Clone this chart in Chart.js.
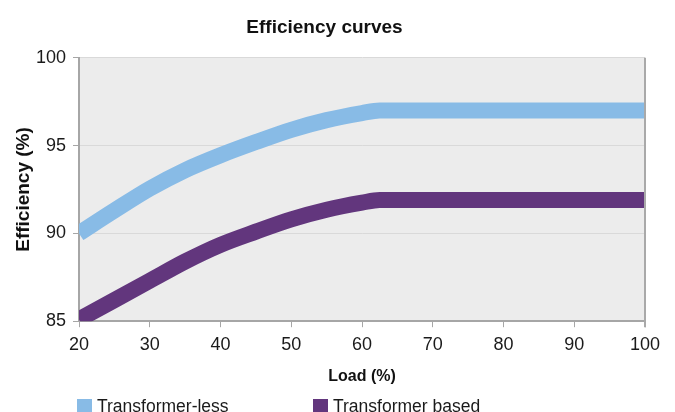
<!DOCTYPE html>
<html>
<head>
<meta charset="utf-8">
<title>Efficiency curves</title>
<script src="https://cdn.jsdelivr.net/npm/chart.js@4.4.1/dist/chart.umd.min.js"></script>
<style>
  body { margin: 0; background: #fff; }
  #wrap { position: relative; width: 675px; height: 412px; overflow: hidden; }
  .legend-item { position: absolute; top: 396px; display: flex; align-items: center;
    font: 17.5px "Liberation Sans", Arial, sans-serif; color: #1a1a1a; white-space: nowrap; }
  .legend-item .box { width: 15px; height: 15px; margin-right: 5px; }
</style>
</head>
<body>
<div id="wrap">
  <canvas id="myChart" width="675" height="412"></canvas>
</div>
<script>
// data
const load = [20, 25, 30, 35, 40, 45, 50, 55, 60, 62.5, 100];
const transformerLess = [90.0, 91.3, 92.55, 93.6, 94.45, 95.2, 95.9, 96.45, 96.85, 97.0, 97.0];
const transformerBased = [85.1, 86.2, 87.3, 88.4, 89.35, 90.1, 90.8, 91.35, 91.75, 91.9, 91.9];
const seriesNames = ['Transformer-less', 'Transformer based'];
const seriesColors = ['#88bbe6', '#62367d'];
const legendLeft = [77, 313];

Chart.defaults.font.family = '"Liberation Sans", Arial, sans-serif';
Chart.defaults.color = '#1a1a1a';

function points(ys) {
  return load.map((x, i) => ({ x: x, y: ys[i] }));
}

// grey plot background + right frame line
const plotFrame = {
  id: 'plotFrame',
  beforeDraw(chart) {
    const a = chart.chartArea, ctx = chart.ctx;
    ctx.save();
    ctx.fillStyle = '#ececec';
    ctx.fillRect(a.left, a.top, a.right - a.left, a.bottom - a.top);
    ctx.restore();
  },
  afterDatasetsDraw(chart) {
    const a = chart.chartArea, ctx = chart.ctx;
    ctx.save();
    ctx.strokeStyle = '#a9a9a9';
    ctx.lineWidth = 2;
    ctx.beginPath();
    ctx.moveTo(a.right, a.top);
    ctx.lineTo(a.right, a.bottom + 6);
    ctx.stroke();
    ctx.restore();
  }
};

var ctx = document.getElementById('myChart').getContext('2d');
const myChart = new Chart(ctx, {
  type: 'line',
  data: {
    datasets: [
      { label: seriesNames[0], data: points(transformerLess), borderColor: seriesColors[0],
        backgroundColor: seriesColors[0], borderWidth: 16, pointRadius: 0,
        cubicInterpolationMode: 'monotone', clip: 0 },
      { label: seriesNames[1], data: points(transformerBased), borderColor: seriesColors[1],
        backgroundColor: seriesColors[1], borderWidth: 16, pointRadius: 0,
        cubicInterpolationMode: 'monotone', clip: 0 }
    ]
  },
  options: {
    responsive: false,
    animation: false,
    layout: { padding: { left: 4, right: 30, top: 0, bottom: 24 } },
    plugins: {
      legend: { display: false },
      tooltip: { enabled: false },
      title: {
        display: true,
        text: 'Efficiency curves',
        color: '#111',
        font: { size: 19, weight: 'bold' },
        padding: { top: 16, bottom: 19 }
      }
    },
    scales: {
      x: {
        type: 'linear',
        min: 20,
        max: 100,
        ticks: { stepSize: 10, font: { size: 18 }, padding: 7, maxRotation: 0 },
        grid: { drawOnChartArea: false, tickLength: 6, tickColor: '#a6a6a6', tickWidth: 1 },
        border: { color: '#a6a6a6', width: 2 },
        title: { display: true, text: 'Load (%)', color: '#111',
          font: { size: 16, weight: 'bold' }, padding: { top: 4, bottom: 2 } }
      },
      y: {
        min: 85,
        max: 100,
        ticks: { stepSize: 5, font: { size: 18 }, padding: 7 },
        grid: {
          color: (c) => c.tick && c.tick.value === 85 ? 'rgba(0,0,0,0)' : '#d9d9d9',
          tickLength: 6, tickColor: '#a6a6a6', tickWidth: 1
        },
        border: { color: '#a6a6a6', width: 2 },
        title: { display: true, text: 'Efficiency (%)', color: '#111',
          font: { size: 19, weight: 'bold' }, padding: { top: 8, bottom: 0 } },
        afterFit: function (scale) { scale.width = 75; }
      }
    }
  },
  plugins: [plotFrame]
});

// legend under the chart
const wrap = document.getElementById('wrap');
seriesNames.forEach(function (name, i) {
  const item = document.createElement('div');
  item.className = 'legend-item';
  item.style.left = legendLeft[i] + 'px';
  const box = document.createElement('div');
  box.className = 'box';
  box.style.background = seriesColors[i];
  const label = document.createElement('span');
  label.innerText = name;
  item.appendChild(box);
  item.appendChild(label);
  wrap.appendChild(item);
});
</script>
</body>
</html>
